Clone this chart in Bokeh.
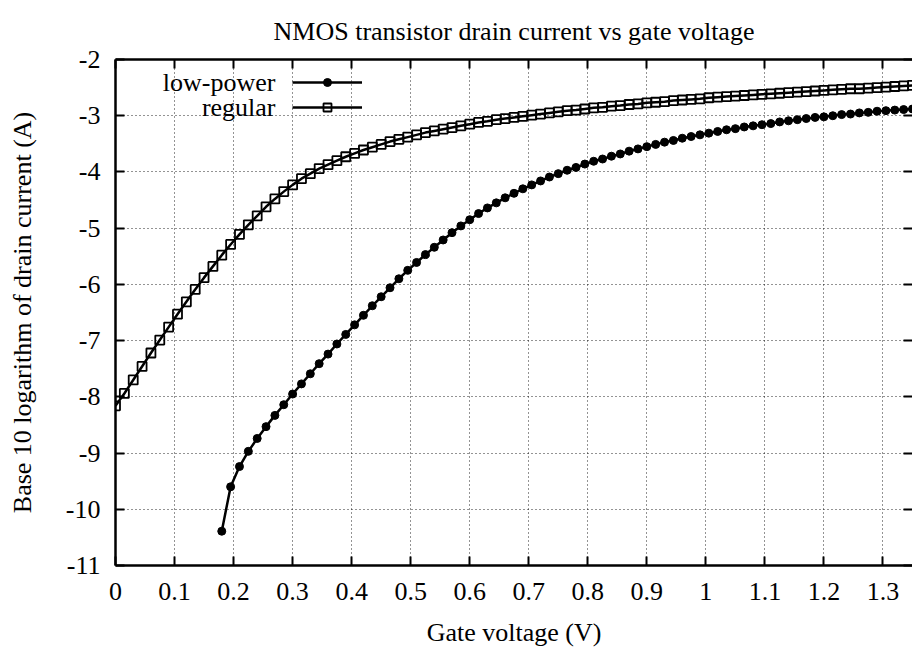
from bokeh.plotting import figure
from bokeh.models import (Range1d, LinearAxis, FixedTicker, Legend, LegendItem,
                          Label, CustomJSTickFormatter)
from bokeh.core.properties import value
from bokeh.embed import file_html
from bokeh.resources import INLINE

# ---------------- data ----------------
x_regular = [0, 0.015, 0.03, 0.045, 0.06, 0.075, 0.09, 0.105, 0.12, 0.135,
             0.15, 0.165, 0.18, 0.195, 0.21, 0.225, 0.24, 0.255, 0.27, 0.285,
             0.3, 0.315, 0.33, 0.345, 0.36, 0.375, 0.39, 0.405, 0.42, 0.435,
             0.45, 0.465, 0.48, 0.495, 0.51, 0.525, 0.54, 0.555, 0.57, 0.585,
             0.6, 0.615, 0.63, 0.645, 0.66, 0.675, 0.69, 0.705, 0.72, 0.735,
             0.75, 0.765, 0.78, 0.795, 0.81, 0.825, 0.84, 0.855, 0.87, 0.885,
             0.9, 0.915, 0.93, 0.945, 0.96, 0.975, 0.99, 1.005, 1.02, 1.035,
             1.05, 1.065, 1.08, 1.095, 1.11, 1.125, 1.14, 1.155, 1.17, 1.185,
             1.2, 1.215, 1.23, 1.245, 1.26, 1.275, 1.29, 1.305, 1.32, 1.335,
             1.35]
y_regular = [-8.16, -7.94, -7.70, -7.46, -7.22, -6.99, -6.76, -6.53, -6.31, -6.09,
             -5.88, -5.68, -5.48, -5.29, -5.11, -4.94, -4.78, -4.62, -4.48, -4.35,
             -4.23, -4.12, -4.03, -3.94, -3.87, -3.80, -3.73, -3.67, -3.61, -3.56,
             -3.51, -3.46, -3.42, -3.38, -3.34, -3.30, -3.27, -3.24, -3.21, -3.18,
             -3.15, -3.12, -3.10, -3.07, -3.05, -3.03, -3.01, -2.99, -2.97, -2.95,
             -2.93, -2.91, -2.90, -2.88, -2.86, -2.85, -2.83, -2.82, -2.80, -2.79,
             -2.77, -2.76, -2.75, -2.73, -2.72, -2.71, -2.70, -2.68, -2.67, -2.66,
             -2.65, -2.64, -2.63, -2.62, -2.61, -2.60, -2.59, -2.58, -2.57, -2.56,
             -2.55, -2.54, -2.53, -2.52, -2.52, -2.51, -2.50, -2.49, -2.48, -2.47,
             -2.46]

x_lowpower = [0.18, 0.195, 0.21, 0.225, 0.24, 0.255, 0.27, 0.285, 0.3, 0.315,
              0.33, 0.345, 0.36, 0.375, 0.39, 0.405, 0.42, 0.435, 0.45, 0.465,
              0.48, 0.495, 0.51, 0.525, 0.54, 0.555, 0.57, 0.585, 0.6, 0.615,
              0.63, 0.645, 0.66, 0.675, 0.69, 0.705, 0.72, 0.735, 0.75, 0.765,
              0.78, 0.795, 0.81, 0.825, 0.84, 0.855, 0.87, 0.885, 0.9, 0.915,
              0.93, 0.945, 0.96, 0.975, 0.99, 1.005, 1.02, 1.035, 1.05, 1.065,
              1.08, 1.095, 1.11, 1.125, 1.14, 1.155, 1.17, 1.185, 1.2, 1.215,
              1.23, 1.245, 1.26, 1.275, 1.29, 1.305, 1.32, 1.335, 1.35]
y_lowpower = [-10.39, -9.60, -9.24, -8.97, -8.74, -8.53, -8.33, -8.14, -7.95, -7.77,
              -7.59, -7.41, -7.24, -7.06, -6.89, -6.72, -6.55, -6.38, -6.22, -6.06,
              -5.90, -5.75, -5.61, -5.47, -5.34, -5.21, -5.08, -4.96, -4.85, -4.74,
              -4.64, -4.55, -4.46, -4.38, -4.30, -4.23, -4.16, -4.09, -4.03, -3.97,
              -3.92, -3.86, -3.81, -3.77, -3.72, -3.68, -3.63, -3.59, -3.55, -3.51,
              -3.47, -3.44, -3.40, -3.37, -3.34, -3.31, -3.28, -3.25, -3.23, -3.20,
              -3.18, -3.16, -3.14, -3.11, -3.09, -3.07, -3.05, -3.03, -3.02, -3.00,
              -2.98, -2.97, -2.95, -2.94, -2.92, -2.91, -2.90, -2.89, -2.88]

x_ticks = [0, 0.1, 0.2, 0.3, 0.4, 0.5, 0.6, 0.7, 0.8, 0.9, 1.0, 1.1, 1.2, 1.3]
y_ticks = [-11, -10, -9, -8, -7, -6, -5, -4, -3, -2]
y_tick_labels = ["-11", "-10", "-9", "-8", "-7", "-6", "-5", "-4", "-3", "-2"]
series_names = ["low-power", "regular"]
title_text = "NMOS transistor drain current vs gate voltage"

FONT = "Liberation Serif"
FS = "26px"

p = figure(width=912, height=650, output_backend="svg", toolbar_location=None,
           title=title_text,
           x_range=Range1d(0, 1.35), y_range=Range1d(-11, -2),
           min_border_left=115, min_border_right=0, min_border_top=59,
           min_border_bottom=85,
           x_axis_label="Gate voltage (V)",
           y_axis_label="Base 10 logarithm of drain current (A)")

p.title.align = "center"
p.title.text_font = FONT
p.title.text_font_size = FS
p.title.text_font_style = "normal"
p.title.text_color = "black"
p.title.standoff = 27

p.outline_line_color = None

# grid
p.xgrid.ticker = FixedTicker(ticks=x_ticks)
p.ygrid.ticker = FixedTicker(ticks=y_ticks)
for g in (p.xgrid, p.ygrid):
    g.grid_line_color = "black"
    g.grid_line_alpha = 0.85
    g.grid_line_dash = "1 3"
    g.grid_line_width = 1

def style_axis(ax):
    ax.major_tick_in = 9
    ax.major_tick_out = 0
    ax.minor_tick_line_color = None
    ax.axis_line_width = 2.5
    ax.axis_line_color = "black"
    ax.major_tick_line_width = 2
    ax.major_tick_line_color = "black"
    ax.major_label_text_font = FONT
    ax.major_label_text_font_size = FS
    ax.major_label_text_color = "black"
    ax.axis_label_text_font = FONT
    ax.axis_label_text_font_size = FS
    ax.axis_label_text_font_style = "normal"
    ax.axis_label_text_color = "black"

xa = p.xaxis[0]
xa.ticker = FixedTicker(ticks=x_ticks)
xa.major_label_overrides = {0: "0", 1: "1"}
style_axis(xa)
xa.major_label_standoff = 17
xa.axis_label_standoff = 15

ya = p.yaxis[0]
ya.ticker = FixedTicker(ticks=y_ticks)
ya.major_label_overrides = dict(zip(y_ticks, y_tick_labels))
style_axis(ya)
ya.major_label_standoff = 15
ya.axis_label_standoff = 26

top = LinearAxis(ticker=FixedTicker(ticks=x_ticks),
                 formatter=CustomJSTickFormatter(code="return ''"))
style_axis(top)
top.major_label_standoff = 0
p.add_layout(top, "above")

right = LinearAxis(ticker=FixedTicker(ticks=y_ticks),
                   formatter=CustomJSTickFormatter(code="return ''"))
style_axis(right)
right.axis_line_color = None
right.major_label_standoff = 0
p.add_layout(right, "right")

# series
lp_line = p.line(x_lowpower, y_lowpower, line_color="black", line_width=2.5)
lp_mark = p.scatter(x_lowpower, y_lowpower, marker="circle", size=8,
                    fill_color="black", line_color="black")
rg_line = p.line(x_regular, y_regular, line_color="black", line_width=2.5)
rg_mark = p.scatter(x_regular, y_regular, marker="square", size=9,
                    fill_color=None, line_color="black", line_width=1.8)

legend = Legend(items=[LegendItem(label=value(""), renderers=[lp_line, lp_mark]),
                       LegendItem(label=value(""), renderers=[rg_line, rg_mark])],
                location=(177, 448), glyph_width=70, glyph_height=20,
                label_height=20, label_width=0, label_standoff=0, spacing=5,
                padding=0, margin=0, border_line_color=None,
                background_fill_alpha=0)
p.add_layout(legend)

for name, yy in zip(series_names, (483, 458)):
    p.add_layout(Label(x=160, y=yy, x_units="screen", y_units="screen",
                       text=name, text_align="right", text_baseline="middle",
                       text_font=FONT, text_font_size=FS, text_color="black"))

open("out.html", "w").write(file_html(p, INLINE))
